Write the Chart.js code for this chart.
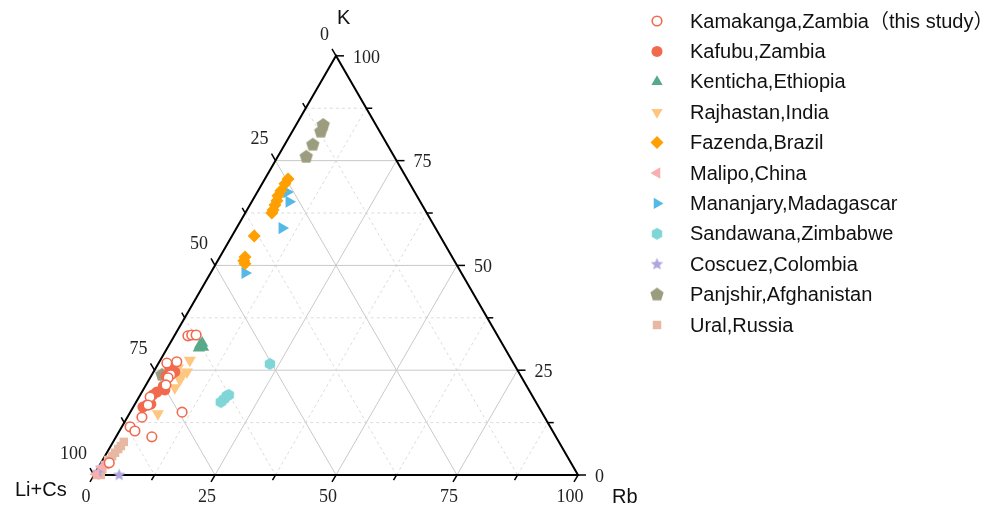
<!DOCTYPE html>
<html><head><meta charset="utf-8">
<script src="https://cdn.jsdelivr.net/npm/chart.js@4/dist/chart.umd.min.js"></script>
<style>html,body{margin:0;padding:0;background:#fff}#wrap{width:1003px;height:509px;position:relative}</style>
</head><body><div id="wrap"><canvas id="c"></canvas></div>
<script>
// ---- data: each point is [Rb, K] in percent; Li+Cs = 100 - Rb - K ----
const seriesNames = ["Kamakanga,Zambia（this study）","Kafubu,Zambia","Kenticha,Ethiopia","Rajhastan,India","Fazenda,Brazil","Malipo,China","Mananjary,Madagascar","Sandawana,Zimbabwe","Coscuez,Colombia","Panjshir,Afghanistan","Ural,Russia"];
const kamakanga = [[2.8,33.2],[3.5,33.4],[4.4,33.4],[1.7,26.7],[3.6,27.0],[3.9,23.9],[3.7,23.2],[4.1,21.5],[2.3,18.6],[2.8,16.7],[3.0,13.8],[10.7,15.0],[1.7,11.5],[3.2,10.5],[7.4,9.1],[1.7,2.9]];
const kafubu = [[2.9,25.5],[4.4,24.6],[3.1,23.6],[3.7,21.2],[4.5,20.3],[3.1,19.8],[2.6,19.1],[3.3,16.9],[2.6,16.7],[2.0,16.2]];
const kenticha = [[6.4,31.0],[6.6,31.5],[7.3,30.5],[6.5,30.3]];
const rajhastan = [[6.1,27.4],[4.6,25.5],[6.9,24.6],[6.2,23.9],[6.4,22.7],[6.3,20.8],[5.9,14.6]];
const fazenda = [[4.8,70.6],[4.7,69.5],[4.7,67.8],[4.7,66.6],[5.1,65.4],[5.2,64.4],[5.4,63.2],[5.5,62.5],[4.6,57.0],[5.2,52.0],[5.4,51.1],[6.0,50.4]];
const malipo = [[0.7,1.9],[0.3,0.2]];
const mananjary = [[6.1,67.5],[7.7,65.2],[9.4,58.9],[7.1,48.2]];
const sandawana = [[23.1,26.5],[17.5,17.4],[17.8,18.1],[18.0,18.9],[18.3,19.1]];
const coscuez = [[5.2,0.0],[0.5,0.7],[0.6,1.7]];
const panjshir = [[5.6,83.5],[5.9,81.9],[5.8,78.8],[5.9,75.9],[2.1,23.9]];
const ural = [[2.2,7.9],[2.1,6.9],[1.9,6.2],[1.7,5.3],[1.5,4.5],[1.1,3.6],[1.1,2.4],[1.0,1.4],[0.9,0.2],[0.6,0.0],[1.4,0.0]];
const tickValues = [0,25,50,75,100];
const gridValues = [12.5,25,37.5,50,62.5,75,87.5];
const axisTitles = {left:"Li+Cs", right:"Rb", top:"K"};

// ---- helpers ----
const S3 = Math.sqrt(3)/2;
function toXY(p){ return {x: p[0] + p[1]/2, y: p[1]*S3, li: 100-p[0]-p[1], rb: p[0], k: p[1]}; }
function shape(kind, r, fill){
  const c = document.createElement('canvas');
  const s = Math.ceil(2*r+2); c.width = s; c.height = s;
  const g = c.getContext('2d'); const cx = s/2, cy = s/2;
  g.beginPath();
  if(kind==='star'){
    for(let i=0;i<10;i++){const rr = i%2? r*0.45 : r; const a = -Math.PI/2 + i*Math.PI/5; g.lineTo(cx+rr*Math.cos(a), cy+rr*Math.sin(a));}
  } else {
    const n = kind==='pentagon'?5:6;
    for(let i=0;i<n;i++){const a = -Math.PI/2 + i*2*Math.PI/n; g.lineTo(cx+r*Math.cos(a), cy+r*Math.sin(a));}
  }
  g.closePath(); g.fillStyle = fill; g.fill();
  return c;
}
const styles = [
  {data:kamakanga, color:'#F26A4E', fill:'#ffffff', ps:'circle', r:4.8, bw:1.6},
  {data:kafubu, color:'#F26A4E', fill:'#F26A4E', ps:'circle', r:5.5, bw:0},
  {data:kenticha, color:'#58A98A', fill:'#58A98A', ps:'triangle', r:7, bw:0},
  {data:rajhastan, color:'#FEC67E', fill:'#FEC67E', ps:'triangle', rot:180, r:7, bw:0},
  {data:fazenda, color:'#FF9F00', fill:'#FF9F00', ps:'rectRot', r:6.5, bw:0},
  {data:malipo, color:'#F7AFAF', fill:'#F7AFAF', ps:'triangle', rot:270, r:6.5, bw:0},
  {data:mananjary, color:'#55B8E6', fill:'#55B8E6', ps:'triangle', rot:90, r:7, bw:0},
  {data:sandawana, color:'#80D6D6', fill:'#80D6D6', ps:shape('hex',6,'#80D6D6'), r:6, bw:0},
  {data:coscuez, color:'#AEA6DC', fill:'#AEA6DC', ps:shape('star',6.5,'#AEA6DC'), r:6.5, bw:0},
  {data:panjshir, color:'#9C9C7F', fill:'#9C9C7F', ps:shape('pentagon',7,'#9C9C7F'), r:7, bw:0},
  {data:ural, color:'#E8B9A2', fill:'#E8B9A2', ps:'rect', r:6, bw:0}
];
const datasets = styles.map((s,i)=>({
  label: seriesNames[i], data: s.data.map(toXY), pointStyle: s.ps, rotation: s.rot||0,
  pointRadius: s.r, pointHoverRadius: s.r, borderColor: s.color, backgroundColor: s.fill,
  borderWidth: s.bw, pointBorderWidth: s.bw, clip: false
}));

const ternaryPlugin = {
  id:'ternary',
  beforeDatasetsDraw(chart){
    const {ctx, scales:{x, y}} = chart;
    const P = (rb,k)=>[x.getPixelForValue(rb + k/2), y.getPixelForValue(k*S3)];
    ctx.save();
    gridValues.forEach(v=>{
      const major = v%25===0;
      ctx.strokeStyle = major ? '#c9c9c9' : '#dcdcdc';
      ctx.lineWidth = 1; ctx.setLineDash(major?[]:[3,3]);
      const lines = [ [P(0,v),P(100-v,v)], [P(v,0),P(v,100-v)], [P(0,100-v),P(100-v,0)] ];
      lines.forEach(([a,b])=>{ctx.beginPath();ctx.moveTo(a[0],a[1]);ctx.lineTo(b[0],b[1]);ctx.stroke();});
    });
    ctx.setLineDash([]);
    const L = P(0,0), R = P(100,0), T = P(0,100);
    ctx.strokeStyle = '#000'; ctx.lineWidth = 2;
    ctx.beginPath(); ctx.moveTo(L[0],L[1]); ctx.lineTo(R[0],R[1]); ctx.lineTo(T[0],T[1]); ctx.closePath(); ctx.stroke();
    ctx.lineWidth = 1.5;
    const allT = [0,12.5,25,37.5,50,62.5,75,87.5,100];
    allT.forEach(v=>{
      const len = v%25===0 ? 8 : 6;
      let a = P(v,0); ctx.beginPath(); ctx.moveTo(a[0],a[1]); ctx.lineTo(a[0]-0.5*len, a[1]+S3*len); ctx.stroke();
      a = P(100-v,v); ctx.beginPath(); ctx.moveTo(a[0],a[1]); ctx.lineTo(a[0]+len, a[1]); ctx.stroke();
      a = P(0,100-v); ctx.beginPath(); ctx.moveTo(a[0],a[1]); ctx.lineTo(a[0]-0.5*len, a[1]-S3*len); ctx.stroke();
    });
    ctx.fillStyle = '#222'; ctx.font = '18px "Liberation Serif", "Times New Roman", serif';
    ctx.textBaseline = 'middle';
    tickValues.forEach(v=>{
      let a = P(v,0); ctx.textAlign='center'; ctx.fillText(String(v), a[0]-8, a[1]+22);
      a = P(100-v,v); ctx.textAlign='left'; ctx.fillText(String(v), a[0]+17, a[1]+2);
      a = P(0,100-v); ctx.textAlign='right'; ctx.fillText(String(v), a[0]-7, a[1]-21);
    });
    ctx.font = '20px "Liberation Sans", Arial, sans-serif'; ctx.fillStyle = '#111';
    ctx.textAlign='left'; ctx.fillText(axisTitles.top, T[0]+1, T[1]-37);
    ctx.textAlign='left'; ctx.fillText(axisTitles.left, L[0]-79, L[1]+15);
    ctx.textAlign='left'; ctx.fillText(axisTitles.right, R[0]+34, R[1]+22);
    ctx.restore();
  },
  afterDraw(chart){
    const ctx = chart.ctx;
    ctx.save();
    chart.data.datasets.forEach((ds,i)=>{
      const yy = 21 + i*30.4;
      ctx.fillStyle = ds.backgroundColor; ctx.strokeStyle = ds.borderColor;
      Chart.helpers.drawPoint(ctx, {pointStyle: ds.pointStyle, rotation: ds.rotation, radius: Math.min(ds.pointRadius,6.5), borderWidth: ds.borderWidth}, 657, yy);
      ctx.fillStyle = '#111'; ctx.font = '20px "Liberation Sans", Arial, "Noto Sans CJK SC", sans-serif';
      ctx.textAlign='left'; ctx.textBaseline='middle';
      ctx.fillText(ds.label, 690, yy+1);
    });
    ctx.restore();
  }
};

new Chart(document.getElementById('c'), {
  type:'scatter',
  data:{datasets},
  options:{
    responsive:true, maintainAspectRatio:false, animation:false,
    layout:{padding:0, autoPadding:false},
    plugins:{legend:{display:false}, tooltip:{enabled:true}},
    scales:{
      x:{type:'linear', display:false, min:-94/4.84, max:-94/4.84 + 1003/4.84},
      y:{type:'linear', display:false, min:-(509-475)/4.84, max:475/4.84}
    }
  },
  plugins:[ternaryPlugin]
});
</script></body></html>
